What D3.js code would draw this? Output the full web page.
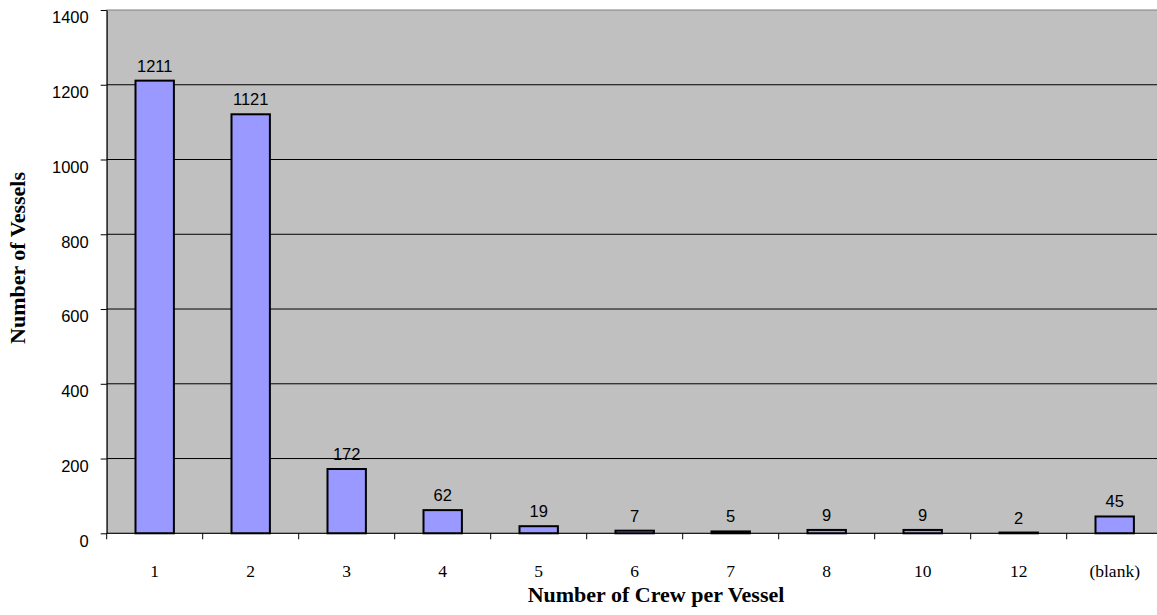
<!DOCTYPE html>
<html><head><meta charset="utf-8">
<script src="https://cdn.jsdelivr.net/npm/d3@7"></script>
<style>body{margin:0;background:#fff}svg{display:block}</style>
</head><body><svg id="c" width="1157" height="615"></svg>
<script>
const categories = ["1","2","3","4","5","6","7","8","10","12","(blank)"];
const values = [1211,1121,172,62,19,7,5,9,9,2,45];
const yTicks = [0,200,400,600,800,1000,1200,1400];

const svg = d3.select("#c");
const m = {left:106.7, top:10, bottom:533.3};
const W = 1056;
const x = d3.scaleBand().domain(categories).range([m.left, m.left+W]).paddingInner(0.6).paddingOuter(0.3);
const y = d3.scaleLinear().domain([0,1400]).range([m.bottom, m.top]);

svg.append("rect").attr("x",m.left).attr("y",m.top).attr("width",W).attr("height",m.bottom-m.top)
  .attr("fill","#C0C0C0").attr("stroke","#808080").attr("stroke-width",1);

svg.append("g").selectAll("line").data(yTicks.filter(d=>d>0&&d<1400)).join("line")
  .attr("x1",m.left).attr("x2",m.left+W).attr("y1",d=>y(d)).attr("y2",d=>y(d))
  .attr("stroke","#000").attr("stroke-width",1);

svg.append("g").selectAll("rect").data(values).join("rect")
  .attr("x",(d,i)=>x(categories[i])).attr("width",x.bandwidth())
  .attr("y",d=>y(d)).attr("height",d=>y(0)-y(d))
  .attr("fill","#9999FF").attr("stroke","#000").attr("stroke-width",2);

svg.append("g").selectAll("text").data(values).join("text")
  .attr("x",(d,i)=>x(categories[i])+x.bandwidth()/2).attr("y",d=>y(d)-9)
  .attr("text-anchor","middle").attr("font-family","Liberation Sans, Arial").attr("font-size",16.5)
  .text(d=>d);

// y axis
const ya = svg.append("g").attr("transform",`translate(${m.left},0)`)
  .call(d3.axisLeft(y).tickValues(yTicks).tickFormat(d3.format("d")).tickSize(6).tickPadding(12).tickSizeOuter(0));
ya.select(".domain").attr("stroke","#000");
ya.selectAll("text").attr("font-family","Liberation Sans, Arial").attr("font-size",16.5).attr("fill","#000").attr("dy","0.78em");

// x axis
const step = x.step();
const bounds = d3.range(categories.length+1).map(i=>m.left + i*step);
svg.append("line").attr("x1",m.left).attr("x2",m.left+W).attr("y1",m.bottom).attr("y2",m.bottom).attr("stroke","#000");
svg.append("g").selectAll("line").data(bounds).join("line")
  .attr("x1",d=>d).attr("x2",d=>d).attr("y1",m.bottom).attr("y2",m.bottom+6).attr("stroke","#000");
svg.append("g").selectAll("text").data(categories).join("text")
  .attr("x",d=>x(d)+x.bandwidth()/2).attr("y",577)
  .attr("text-anchor","middle").attr("font-family","Liberation Serif, Times New Roman").attr("font-size",17.5)
  .text(d=>d);

svg.append("text").attr("x",656).attr("y",602).attr("text-anchor","middle")
  .attr("font-family","Liberation Serif, Times New Roman").attr("font-weight","bold").attr("font-size",22)
  .text("Number of Crew per Vessel");
svg.append("text").attr("transform","translate(25,258) rotate(-90)").attr("text-anchor","middle")
  .attr("font-family","Liberation Serif, Times New Roman").attr("font-weight","bold").attr("font-size",22)
  .text("Number of Vessels");
</script></body></html>
